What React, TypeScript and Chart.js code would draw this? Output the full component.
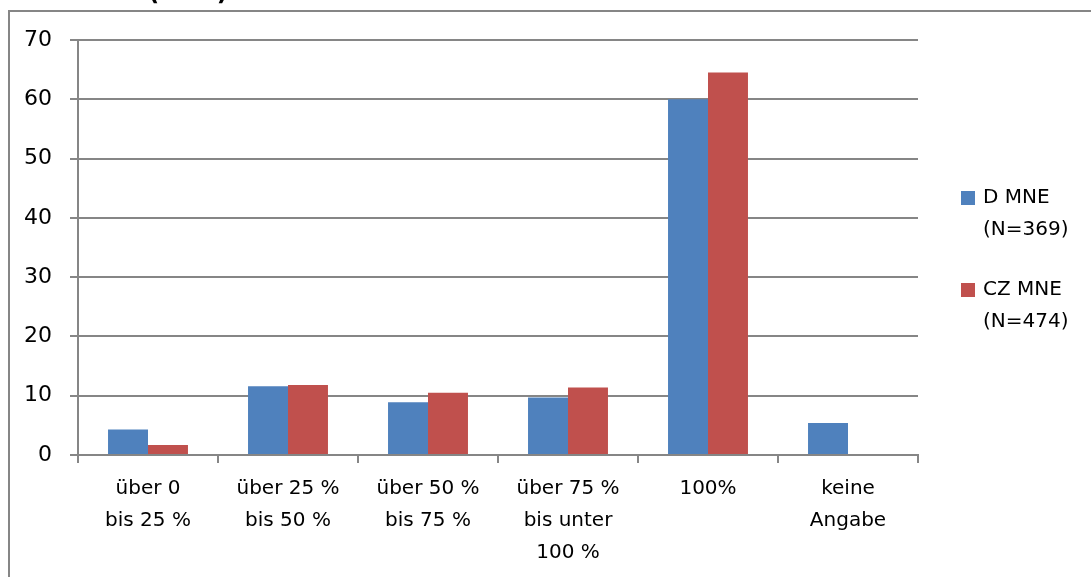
import React, { useEffect, useRef } from "react";
import { Chart, registerables } from "chart.js";

Chart.register(...registerables);

const categories: (string | string[])[] = [
  ["über 0", "bis 25 %"],
  ["über 25 %", "bis 50 %"],
  ["über 50 %", "bis 75 %"],
  ["über 75 %", "bis unter", "100 %"],
  "100%",
  ["keine", "Angabe"],
];
const seriesD = [4.3, 11.6, 8.9, 9.7, 60.0, 5.4];
const seriesCZ = [1.7, 11.8, 10.5, 11.4, 64.5, 0];
const legendD = ["D MNE", "(N=369)"];
const legendCZ = ["CZ MNE", "(N=474)"];
const titleText = "(in %)";
const yTicks = { min: 0, max: 70, step: 10 };

const BLUE = "#4F81BD";
const RED = "#C0504D";
const GRID = "#868686";
const FONT = "'DejaVu Sans', sans-serif";

const framePlugin = {
  id: "frame",
  beforeDraw(chart: any) {
    const ctx = chart.ctx;
    ctx.save();
    ctx.fillStyle = "#ffffff";
    ctx.fillRect(0, 0, chart.width, chart.height);
    ctx.strokeStyle = GRID;
    ctx.lineWidth = 2;
    ctx.strokeRect(9, 11, chart.width + 50, chart.height + 50);
    ctx.fillStyle = "#000";
    ctx.font = `bold 24px ${FONT}`;
    ctx.textAlign = "center";
    ctx.textBaseline = "alphabetic";
    ctx.fillText(titleText, 188, 0);
    ctx.restore();
  },
  afterDraw(chart: any) {
    const ctx = chart.ctx;
    ctx.save();
    ctx.font = `20px ${FONT}`;
    ctx.textAlign = "left";
    ctx.textBaseline = "middle";
    chart.data.datasets.forEach((ds: any, i: number) => {
      const lines: string[] = ds.legendLines;
      const top = 198 + i * 92;
      ctx.fillStyle = ds.backgroundColor;
      ctx.fillRect(961, top - 7, 14, 14);
      ctx.fillStyle = "#000";
      lines.forEach((ln, j) => ctx.fillText(ln, 983, top + j * 32));
    });
    ctx.restore();
  },
};

export default function App() {
  const ref = useRef<HTMLCanvasElement>(null);
  useEffect(() => {
    if (!ref.current) return;
    const chart = new Chart(ref.current, {
      type: "bar",
      data: {
        labels: categories,
        datasets: [
          { label: legendD.join(" "), legendLines: legendD, data: seriesD, backgroundColor: BLUE, borderWidth: 0, categoryPercentage: 0.571, barPercentage: 1 } as any,
          { label: legendCZ.join(" "), legendLines: legendCZ, data: seriesCZ, backgroundColor: RED, borderWidth: 0, categoryPercentage: 0.571, barPercentage: 1 } as any,
        ],
      },
      options: {
        animation: false,
        responsive: true,
        maintainAspectRatio: false,
        layout: { padding: { top: 40, right: 173, left: 0, bottom: 0 } },
        plugins: { legend: { display: false }, title: { display: false }, tooltip: { enabled: false } },
        scales: {
          x: {
            grid: { drawOnChartArea: false, drawTicks: true, tickLength: 8, color: GRID, lineWidth: 2, offset: true },
            border: { display: true, color: GRID, width: 2 },
            ticks: { color: "#000", font: { family: FONT, size: 20, lineHeight: 1.6 }, padding: 10, maxRotation: 0, autoSkip: false },
            afterFit: (s: any) => { s.height = 122; },
          },
          y: {
            min: yTicks.min,
            max: yTicks.max,
            grid: { color: GRID, lineWidth: 2, tickLength: 8, drawTicks: true },
            border: { display: true, color: GRID, width: 2 },
            ticks: { stepSize: yTicks.step, color: "#000", font: { family: FONT, size: 22 }, padding: 18 },
            afterFit: (s: any) => { s.width = 78; },
          },
        },
      },
      plugins: [framePlugin],
    });
    return () => chart.destroy();
  }, []);
  return (
    <div style={{ position: "absolute", left: 0, top: 0, width: 1091, height: 577 }}>
      <canvas ref={ref} />
    </div>
  );
}
